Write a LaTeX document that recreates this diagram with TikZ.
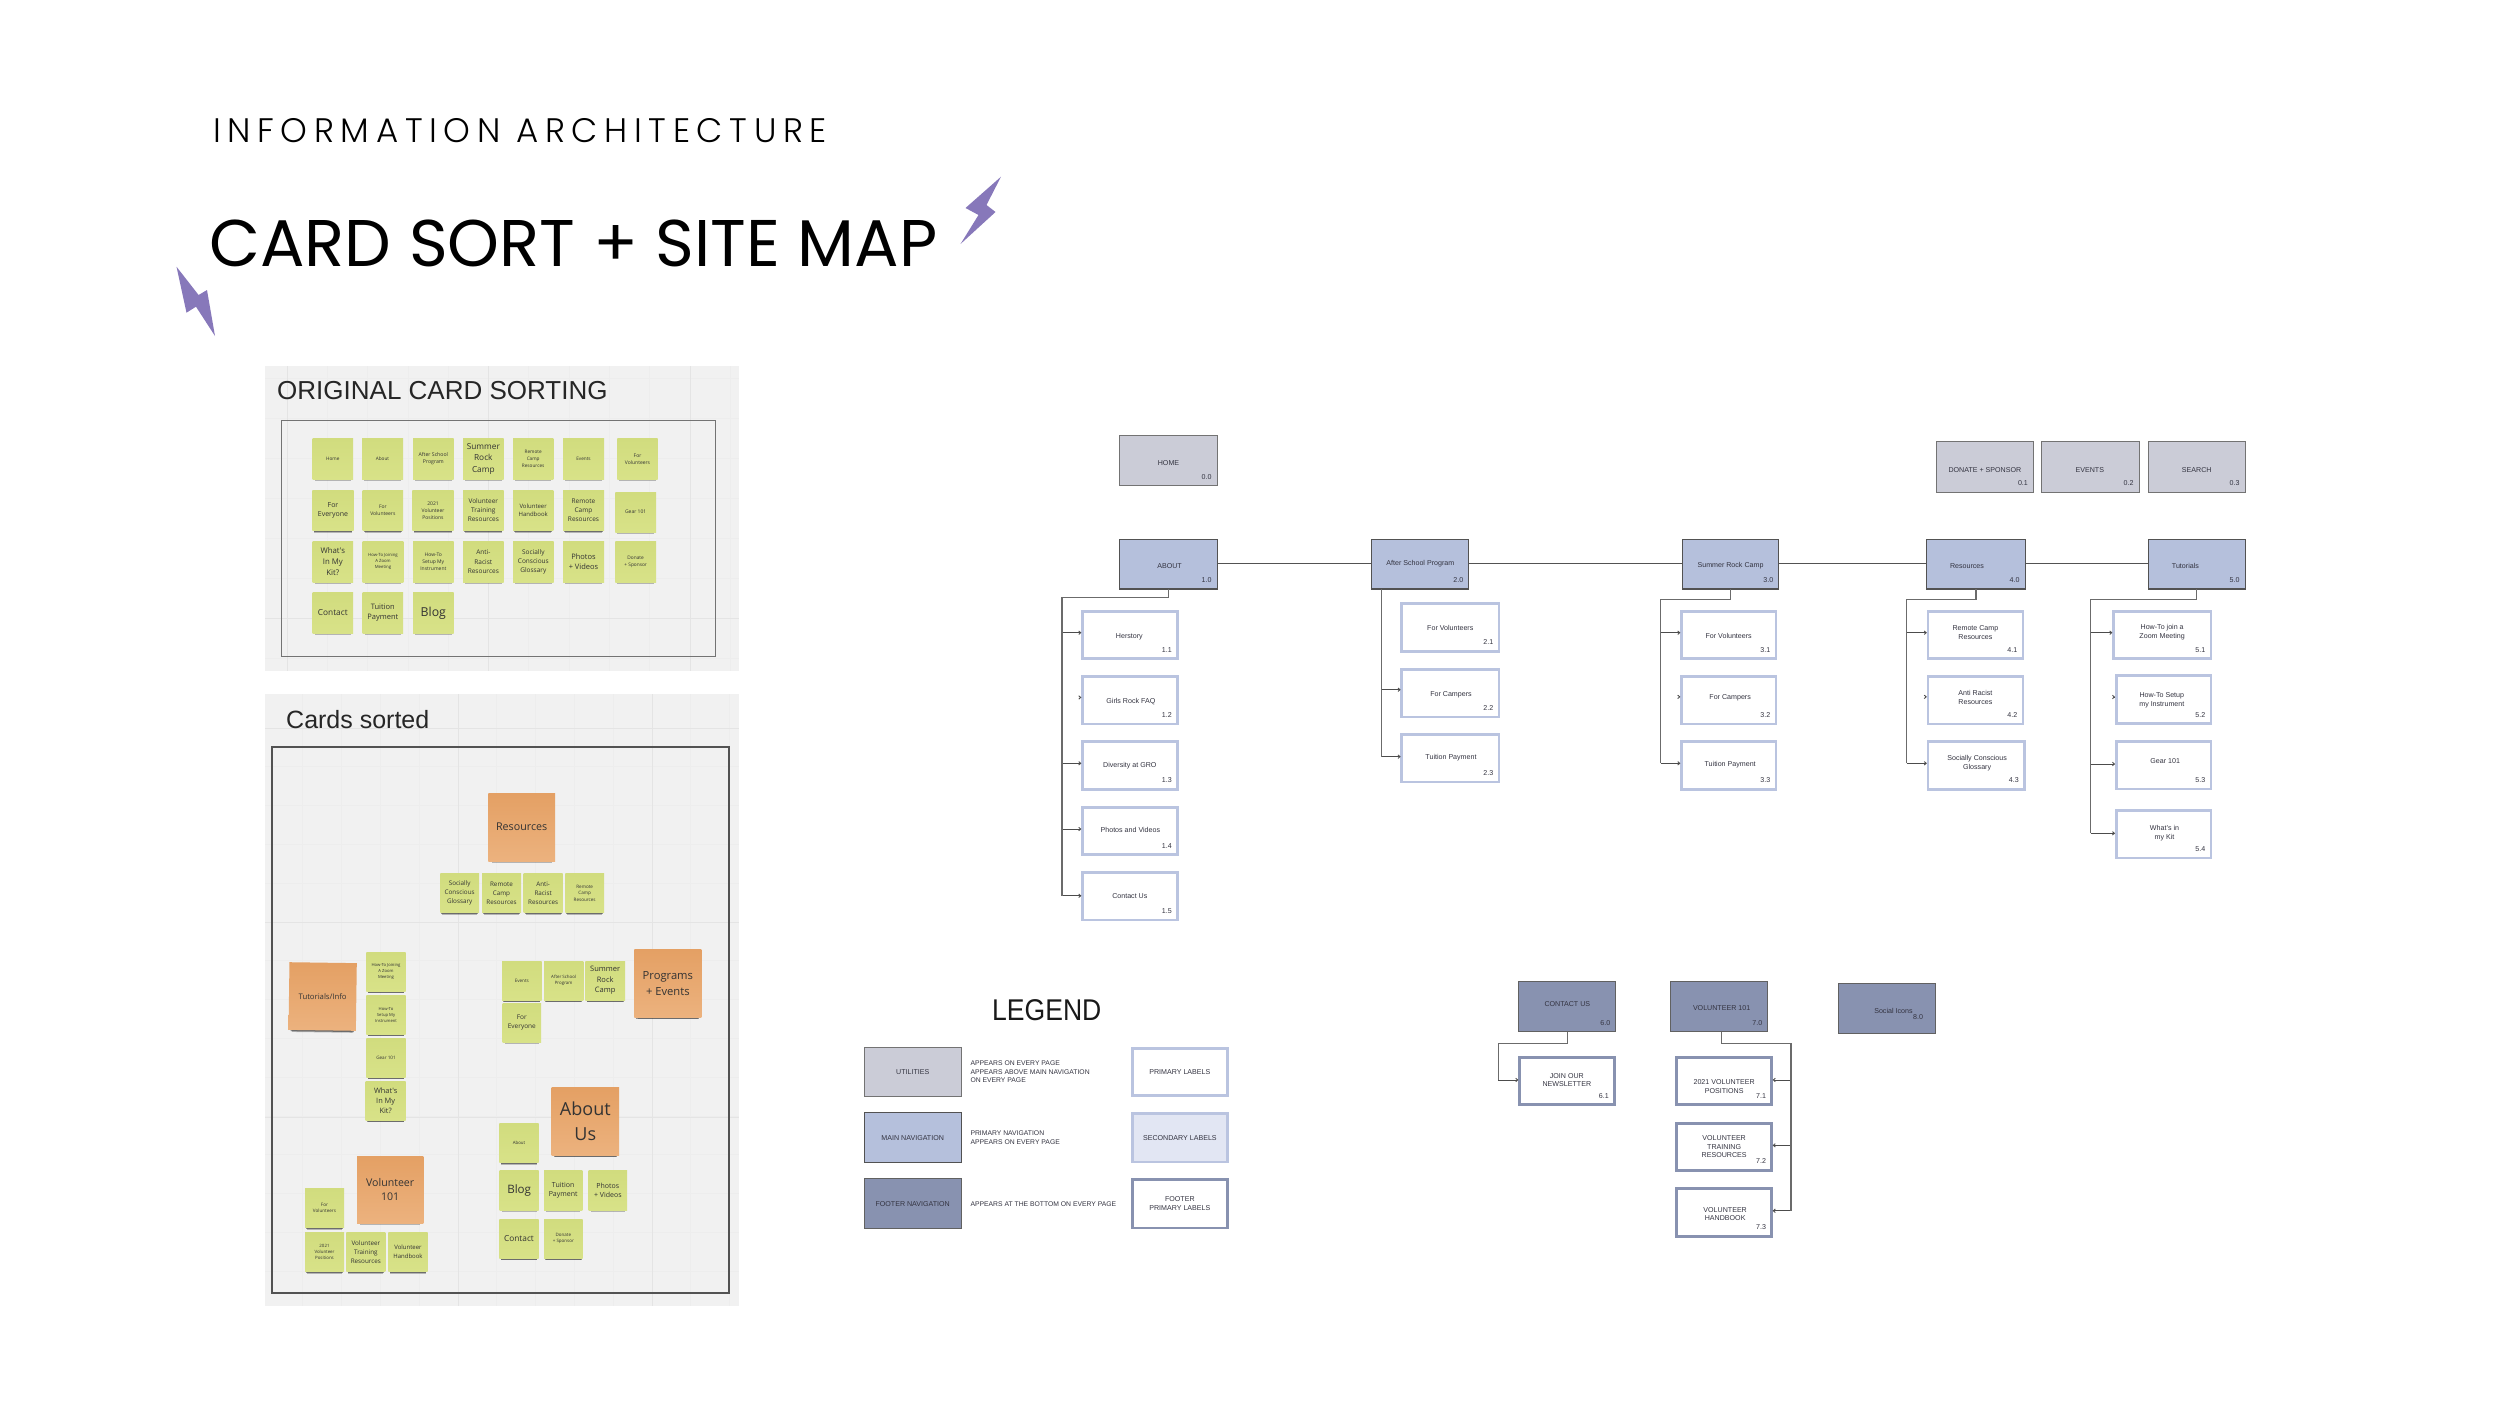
\documentclass[tikz,border=0pt]{standalone}
\usepackage{fontspec}
\usetikzlibrary{calc,shadows,arrows.meta}
\setmainfont{Liberation Sans}
\newfontfamily\titlef{Poppins}
\newfontfamily\subf[LetterSpace=19.5]{Poppins Light}
\newfontfamily\cardfam{Open Sans}
\newfontfamily\panelf{Liberation Sans}
\definecolor{cardtop}{HTML}{D1DC7E}
\definecolor{cardbot}{HTML}{D8E288}
\definecolor{ortop}{HTML}{E4A064}
\definecolor{orbot}{HTML}{ECB27E}
\definecolor{utilfill}{HTML}{CBCCD7}
\definecolor{mainfill}{HTML}{B5C0DC}
\definecolor{subline}{HTML}{BAC4E0}
\definecolor{footfill}{HTML}{8892B0}
\definecolor{secfill}{HTML}{E2E6F3}
\definecolor{panelbg}{HTML}{F1F1F1}
\definecolor{gridmaj}{HTML}{E4E4E4}
\definecolor{gridmin}{HTML}{EDEDED}
\definecolor{bolt}{HTML}{8778BA}
\definecolor{ink}{HTML}{333340}
\newcommand{\cardf}[1]{\cardfam\fontsize{#1}{\the\dimexpr#1pt*14/10\relax}\selectfont}
\tikzset{
  bwset/.code={\def\bw{#1}},
  bx/.style n args={4}{at={({(#1+#3)/2},{(#2+#4)/2})},minimum width={#3-#1-\bw},minimum height={#4-#2-\bw}},
  flat/.style={shape=rectangle,inner sep=0pt,outer sep=0pt,text=ink,bwset=0},
  cardbase/.style={flat,align=center,text=black!80},
  sticky/.style={cardbase,top color=cardtop,bottom color=cardbot,
    general shadow={fill=black,opacity=.25,shadow scale=.9,shadow yshift=-4.3pt},
    general shadow={fill=black,opacity=.4,shadow scale=.94,shadow yshift=-2.5pt}},
  orange/.style={cardbase,top color=ortop,bottom color=orbot,
    general shadow={fill=black,opacity=.25,shadow scale=.9,shadow yshift=-6pt},
    general shadow={fill=black,opacity=.4,shadow scale=.94,shadow yshift=-3.5pt}},
  util/.style={flat,draw=black!55,fill=utilfill,line width=1.1pt,bwset=1.1},
  mainb/.style={flat,draw=black!68,fill=mainfill,line width=1.1pt,bwset=1.1},
  foot/.style={flat,draw=black!62,fill=footfill,line width=1.1pt,bwset=1.1},
  subb/.style={flat,draw=subline,fill=white,line width=2.8pt,bwset=2.8},
  secb/.style={flat,draw=subline,fill=secfill,line width=2.8pt,bwset=2.8},
  fsub/.style={flat,draw=footfill,fill=white,line width=2.8pt,bwset=2.8},
  lbl/.style={shape=rectangle,inner sep=0pt,align=center,text=ink,font=\fontsize{7.1}{8.7}\selectfont},
  nm/.style={lbl},
  legt/.style={shape=rectangle,inner sep=0pt,align=left,anchor=west,text=ink,font=\fontsize{6.8}{8.7}\selectfont},
  trk/.style={draw=black!58,line width=1.2pt},
  hconn/.style={draw=black!68,line width=1pt},
  arr/.style={draw=black!70,line width=.9pt,-{Straight Barb[length=2pt,width=3.4pt]},shorten >=1pt},
  pan/.style={fill=panelbg,draw=none},
  frm/.style={draw=black!55,line width=.9pt},
  frmb/.style={draw=black!68,line width=1.2pt},
  ptitle/.style={shape=rectangle,inner sep=0pt,anchor=base west,text=black!85,font=\panelf\fontsize{26}{30}\selectfont},
  headt/.style={shape=rectangle,inner sep=0pt,anchor=base west,text=black},
}
\def\ox{0}\def\oy{0}
\newcommand{\cd}[8][]{%
  \pgfmathsetmacro\xa{\ox+(#3)/3}\pgfmathsetmacro\ya{\oy+(#4)/3}%
  \pgfmathsetmacro\xb{\ox+(#5)/3}\pgfmathsetmacro\yb{\oy+(#6)/3}%
  \node[sticky,font=\cardf{#7},bx={\xa}{\ya}{\xb}{\yb},#1] (#2) {#8};}
\newcommand{\od}[8][]{%
  \pgfmathsetmacro\xa{\ox+(#3)/3}\pgfmathsetmacro\ya{\oy+(#4)/3}%
  \pgfmathsetmacro\xb{\ox+(#5)/3}\pgfmathsetmacro\yb{\oy+(#6)/3}%
  \node[orange,font=\cardf{#7},bx={\xa}{\ya}{\xb}{\yb},#1] (#2) {#8};}
\newcommand{\bxn}[9]{%
  \node[#1,bx={#3}{#4}{#5}{#6}] (#2) {};
  \node[lbl] (#2-l) at ($(#2.center)+(#8)$) {#7};
  \if\relax\detokenize{#9}\relax\else\node[nm] (#2-n) at ($(#2.south east)+(-10.5,-9)$) {#9};\fi}
% branch arrow: trunk coordinate, target node, shift up, anchor
\newcommand{\brn}[4][west]{%
  \path ([yshift=#4pt]#3.#1) coordinate (#3e);
  \draw[arr] (#2 |- #3e) -- (#3e);}
% arrowhead only, no visible line
\newcommand{\stubn}[2]{%
  \path ([yshift=#2pt]#1.west) coordinate (#1e);
  \draw[arr] ([xshift=-2.6pt]#1e) -- (#1e);}
\begin{document}
\begin{tikzpicture}[x=1pt,y=-1pt]
\useasboundingbox (0,0) rectangle (2500,1406);
% ---------- headings
\node[headt,font=\subf\fontsize{34}{40}\selectfont] (sub) at (213,142) {INFORMATION ARCHITECTURE};
\node[headt,font=\titlef\fontsize{66}{76}\selectfont] (ttl) at (209,266) {CARD SORT + SITE MAP};
\fill[bolt] (1001,176.7) -- (965.5,208) -- (978.5,215) -- (960.5,244) -- (995.5,212) -- (986.5,205) -- cycle;
\fill[bolt] (176.5,266.7) -- (186.5,312.7) -- (196,306.7) -- (215,336) -- (207,290) -- (198.6,295) -- cycle;
% ---------- panel 1
\fill[pan] (265,366) rectangle (739,671);
\begin{scope}
\clip (265,366) rectangle (739,671);
\foreach \i in {-1,...,12} \draw[gridmin,line width=.8pt] ({287+\i*40.3},366) -- ({287+\i*40.3},671);
\foreach \i in {-2,...,8} \draw[gridmin,line width=.8pt] (265,{418+\i*40}) -- (739,{418+\i*40});
\foreach \v in {287,488,690} \draw[gridmaj,line width=1pt] (\v,366) -- (\v,671);
\draw[gridmaj,line width=1pt] (265,618) -- (739,618);
\end{scope}
\draw[frm] (281,420) rectangle (715,656);
\node[ptitle] (t1) at (277,399) {ORIGINAL CARD SORTING};
\def\ox{260}\def\oy{360}
\cd{a1}{158}{235}{279}{358}{4.7}{Home}
\cd{a2}{306}{235}{429}{358}{4.7}{About}
\cd{a3}{459}{235}{581}{358}{5.2}{After School\\Program}
\cd{a4}{609}{235}{731}{358}{8.3}{Summer\\Rock\\Camp}
\cd{a5}{759}{235}{880}{358}{4.7}{Remote\\Camp\\Resources}
\cd{a6}{909}{235}{1032}{358}{4.7}{Events}
\cd{a7}{1072}{235}{1193}{358}{5}{For\\Volunteers}
\cd{b1}{157}{390}{281}{512}{7}{For\\Everyone}
\cd{b2}{308}{390}{429}{512}{5}{For\\Volunteers}
\cd{b3}{457}{390}{581}{512}{5}{2021\\Volunteer\\Positions}
\cd{b4}{609}{390}{731}{512}{6.5}{Volunteer\\Training\\Resources}
\cd{b5}{759}{390}{880}{512}{6}{Volunteer\\Handbook}
\cd{b6}{909}{390}{1032}{512}{6.5}{Remote\\Camp\\Resources}
\cd{b7}{1066}{396}{1188}{516}{5}{Gear 101}
\cd{c1}{158}{543}{279}{667}{7.8}{What's\\In My\\Kit?}
\cd{c2}{308}{543}{430}{667}{4.3}{How-To Joining\\A Zoom\\Meeting}
\cd{c3}{459}{543}{581}{667}{5}{How-To\\Setup My\\Instrument}
\cd{c4}{609}{543}{731}{667}{6.5}{Anti-\\Racist\\Resources}
\cd{c5}{759}{543}{881}{667}{6.5}{Socially\\Conscious\\Glossary}
\cd{c6}{909}{543}{1032}{667}{7.5}{Photos\\+ Videos}
\cd{c7}{1066}{543}{1188}{667}{4.8}{Donate\\+ Sponsor}
\cd{d1}{158}{697}{279}{820}{8.3}{Contact}
\cd{d2}{308}{697}{429}{820}{7.5}{Tuition\\Payment}
\cd{d3}{459}{697}{581}{820}{12.3}{Blog}
% ---------- panel 2
\fill[pan] (265,694) rectangle (739,1306);
\begin{scope}
\clip (265,694) rectangle (739,1306);
\foreach \i in {-5,...,7} \draw[gridmin,line width=.8pt] ({458+\i*38.8},694) -- ({458+\i*38.8},1306);
\foreach \i in {-1,...,15} \draw[gridmin,line width=.8pt] (265,{728+\i*38.8}) -- (739,{728+\i*38.8});
\foreach \v in {458,652} \draw[gridmaj,line width=1pt] (\v,694) -- (\v,1306);
\foreach \v in {728,922,1117} \draw[gridmaj,line width=1pt] (265,\v) -- (739,\v);
\end{scope}
\draw[frmb] (272,747) rectangle (729,1293);
\node[ptitle,font=\panelf\fontsize{25}{30}\selectfont] (t2) at (286,728.5) {Cards sorted};
\def\ox{260}\def\oy{690}
\od{e0}{685}{310}{885}{513}{10.7}{Resources}
\cd{e1}{541}{551}{657}{668}{6.3}{Socially\\Conscious\\Glossary}
\cd{e2}{666}{551}{783}{668}{6.3}{Remote\\Camp\\Resources}
\cd{e3}{791}{551}{908}{668}{6.3}{Anti-\\Racist\\Resources}
\cd{e4}{916}{551}{1032}{668}{4.6}{Remote\\Camp\\Resources}
\od[rotate=-.8]{f0}{87}{818}{289}{1021}{7.7}{Tutorials/Info}
\cd{f1}{319}{786}{437}{904}{4.2}{How-To Joining\\A Zoom\\Meeting}
\cd{f2}{319}{915}{437}{1033}{4.2}{How-To\\Setup My\\Instrument}
\cd{g1}{726}{813}{845}{931}{4.6}{Events}
\cd{g2}{852}{813}{970}{931}{4.4}{After School\\Program}
\cd{g3}{976}{813}{1095}{931}{7.5}{Summer\\Rock\\Camp}
\cd{g4}{728}{939}{843}{1056}{6.5}{For\\Everyone}
\od{g0}{1123}{779}{1324}{982}{11.2}{Programs\\+ Events}
\def\ox{260}\def\oy{1040}
\cd{f3}{319}{-5}{437}{112}{4.6}{Gear 101}
\cd{f4}{317}{123}{437}{241}{7.4}{What's\\In My\\Kit?}
\od{h0}{875}{143}{1077}{346}{18}{About\\Us}
\cd{h1}{718}{250}{836}{368}{4.4}{About}
\cd{h2}{719}{392}{836}{510}{11.6}{Blog}
\cd{h3}{852}{392}{967}{510}{7}{Tuition\\Payment}
\cd{h4}{986}{392}{1101}{510}{7}{Photos\\+ Videos}
\cd{h5}{718}{537}{836}{655}{8.3}{Contact}
\cd{h6}{852}{537}{968}{655}{4.5}{Donate\\+ Sponsor}
\od{i0}{291}{348}{490}{549}{10.6}{Volunteer\\101}
\cd{i1}{135}{445}{252}{563}{4.6}{For\\Volunteers}
\cd{i2}{135}{576}{252}{695}{4.4}{2021\\Volunteer\\Positions}
\cd{i3}{259}{576}{376}{695}{6.3}{Volunteer\\Training\\Resources}
\cd{i4}{385}{576}{503}{695}{6}{Volunteer\\Handbook}
% ---------- site map: utilities
\bxn{util}{home}{1119.3}{435}{1217.7}{486.3}{HOME}{0,2}{0.0}
\bxn{util}{donate}{1935.7}{441.3}{2034}{492.7}{DONATE + SPONSOR}{0,2.7}{0.1}
\bxn{util}{events}{2041.3}{441.3}{2139.7}{492.7}{EVENTS}{-.7,2.7}{0.2}
\bxn{util}{search}{2147.7}{441.3}{2245.7}{492.7}{SEARCH}{0,2.7}{0.3}
% main navigation
\bxn{mainb}{about}{1119.3}{538.5}{1217.7}{589.5}{ABOUT}{1,2}{1.0}
\bxn{mainb}{after}{1371.3}{538.5}{1469.3}{589.5}{After School Program}{0,-.7}{2.0}
\bxn{mainb}{summer}{1681.7}{538.5}{1779.3}{589.5}{Summer Rock Camp}{0,2}{3.0}
\bxn{mainb}{resour}{1926.3}{538.5}{2025.7}{589.5}{Resources}{-9,2}{4.0}
\bxn{mainb}{tutor}{2147.7}{538.5}{2245.7}{589.5}{Tutorials}{-11.3,2}{5.0}
\draw[hconn] (about.east |- 0,563.3) -- (after.west |- 0,563.3);
\draw[hconn] (after.east |- 0,563.3) -- (summer.west |- 0,563.3);
\draw[hconn] (summer.east |- 0,563.3) -- (resour.west |- 0,563.3);
\draw[hconn] (resour.east |- 0,563.3) -- (tutor.west |- 0,563.3);
% about children
\bxn{subb}{a11}{1081}{610}{1178.7}{660}{Herstory}{-.5,1.7}{1.1}
\bxn{subb}{a12}{1081}{675}{1178.7}{725.3}{Girls Rock FAQ}{1,1.7}{1.2}
\bxn{subb}{a13}{1081}{740.3}{1178.7}{790.7}{Diversity at GRO}{0,0}{1.3}
\bxn{subb}{a14}{1081}{805.7}{1178.7}{856}{Photos and Videos}{.5,-.7}{1.4}
\bxn{subb}{a15}{1081}{871}{1178.7}{921.3}{Contact Us}{0,0}{1.5}
\coordinate (tA) at (1062,597.3);
\brn{tA}{a11}{2.3}
\stubn{a12}{2.7}
\brn{tA}{a13}{2.2}
\brn{tA}{a14}{1.8}
\brn{tA}{a15}{.4}
\draw[trk] (about.south) |- (tA) -- (tA |- a15e);
% after school children
\bxn{subb}{b21}{1400.3}{602.3}{1500.3}{652.7}{For Volunteers}{0,0}{2.1}
\bxn{subb}{b22}{1400.3}{667.7}{1500.3}{718.3}{For Campers}{.7,2}{2.2}
\bxn{subb}{b23}{1400.3}{733}{1500.3}{783.3}{Tuition Payment}{.7,0}{2.3}
\coordinate (tB) at ([xshift=9.4pt]after.south west);
\brn{tB}{b22}{3.3}
\brn{tB}{b23}{1.5}
\draw[trk] (tB) -- (tB |- b23e);
% summer children
\bxn{subb}{c31}{1680}{610}{1777.3}{660}{For Volunteers}{0,1}{3.1}
\bxn{subb}{c32}{1680}{675}{1777.3}{725.3}{For Campers}{1.5,-2.7}{3.2}
\bxn{subb}{c33}{1680}{740.3}{1777.3}{790.7}{Tuition Payment}{1.5,-1.3}{3.3}
\coordinate (tC) at (1660.7,599.3);
\brn{tC}{c31}{2.3}
\stubn{c32}{3.3}
\brn{tC}{c33}{2.2}
\draw[trk] (summer.south) |- (tC) -- (tC |- c33e);
% resources children
\bxn{subb}{d41}{1926.5}{610}{2024.3}{660}{Remote Camp\\Resources}{0,-2.7}{4.1}
\bxn{subb}{d42}{1926.5}{675}{2024.3}{725.3}{Anti Racist\\Resources}{0,-3}{4.2}
\bxn{subb}{d43}{1926.5}{740.3}{2025.7}{790.7}{Socially Conscious\\Glossary}{1,-2}{4.3}
\coordinate (tD) at (1906.7,599.3);
\brn{tD}{d41}{2.3}
\stubn{d42}{3.3}
\brn{tD}{d43}{2.2}
\draw[trk] (resour.south) |- (tD) -- (tD |- d43e);
% tutorials children
\bxn{subb}{e51}{2112}{610}{2212.3}{660}{How-To join a\\Zoom Meeting}{0,-3}{5.1}
\bxn{subb}{e52}{2114.7}{674}{2212.3}{725}{How-To Setup\\my Instrument}{-1.7,.7}{5.2}
\bxn{subb}{e53}{2114.7}{739.7}{2212.3}{790.3}{Gear 101}{1.7,-4.3}{5.3}
\bxn{subb}{e54}{2114.7}{808.7}{2212.3}{859.3}{What's in\\my Kit}{1,-1}{5.4}
\coordinate (tE) at (2090.7,599.3);
\brn{tE}{e51}{2.3}
\stubn{e52}{2.5}
\brn{tE}{e53}{1}
\brn{tE}{e54}{.7}
\draw[trk] (tutor.south) |- (tE) -- (tE |- e54e);
% footer
\bxn{foot}{contact}{1518.3}{981.3}{1616.3}{1032.3}{CONTACT US}{0,-2.7}{6.0}
\bxn{foot}{volun}{1670.3}{981.3}{1768.3}{1032.3}{VOLUNTEER 101}{2.3,1.7}{7.0}
\bxn{foot}{social}{1837.7}{983.3}{1935.7}{1034}{Social Icons}{6.7,2}{}
\node[nm] (social-n) at ($(social.south east)+(-17,-16)$) {8.0};
\bxn{fsub}{join}{1518}{1055.7}{1615.7}{1106}{JOIN OUR\\NEWSLETTER}{0,-.7}{6.1}
\bxn{fsub}{v71}{1675.3}{1055.7}{1773}{1106}{2021 VOLUNTEER\\POSITIONS}{0,6}{7.1}
\bxn{fsub}{v72}{1675.3}{1121.7}{1773}{1171.7}{VOLUNTEER\\TRAINING\\RESOURCES}{0,0}{7.2}
\bxn{fsub}{v73}{1675.3}{1187}{1773}{1237.7}{VOLUNTEER\\HANDBOOK}{1,1.7}{7.3}
\coordinate (tF) at (1498.3,1043.3);
\brn{tF}{join}{.9}
\draw[trk] (contact.south) |- (tF) -- (tF |- joine);
\coordinate (tG) at (1791,1043.3);
\brn[east]{tG}{v71}{.9}
\brn[east]{tG}{v72}{1.4}
\brn[east]{tG}{v73}{1.6}
\draw[trk] ([xshift=2.3pt]volun.south) |- (tG) -- (tG |- v73e);
% ---------- legend
\node[headt,text=black!90,font=\fontsize{30}{34}\selectfont,xscale=.885,transform shape] (leg) at (992,1020) {LEGEND};
\bxn{util}{l1}{863.7}{1046.7}{961.7}{1097.3}{UTILITIES}{0,0}{}
\bxn{mainb}{l2}{863.7}{1112.3}{961.7}{1163.3}{MAIN NAVIGATION}{0,0}{}
\bxn{foot}{l3}{863.7}{1178.3}{961.7}{1229.3}{FOOTER NAVIGATION}{0,0}{}
\bxn{subb}{r1}{1131}{1047}{1228.7}{1097}{PRIMARY LABELS}{0,0}{}
\bxn{secb}{r2}{1131}{1112.3}{1228.7}{1163.3}{SECONDARY LABELS}{0,0}{}
\bxn{fsub}{r3}{1131}{1178.3}{1228.7}{1229.3}{FOOTER\\PRIMARY LABELS}{0,0}{}
\node[legt] (lt1) at (970.3,1071.8) {APPEARS ON EVERY PAGE\\APPEARS ABOVE MAIN NAVIGATION\\ON EVERY PAGE};
\node[legt] (lt2) at (970.3,1137.8) {PRIMARY NAVIGATION\\APPEARS ON EVERY PAGE};
\node[legt] (lt3) at (970.3,1203.7) {APPEARS AT THE BOTTOM ON EVERY PAGE};
\end{tikzpicture}
\end{document}
